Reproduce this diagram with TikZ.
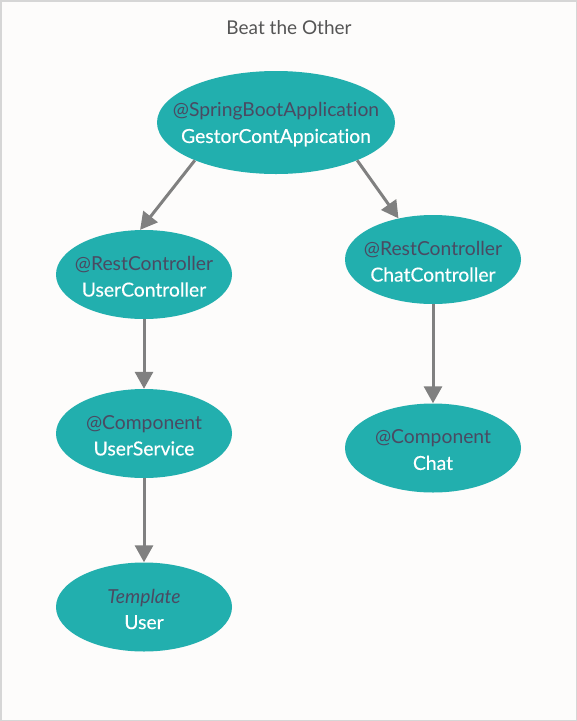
\documentclass[tikz,border=0pt]{standalone}
\usepackage{fontspec}
\setmainfont{Lato}[Ligatures={NoCommon}]
\newfontfamily\namefont{Lato}[FakeBold=0.3, Ligatures={NoCommon}]
\newfontfamily\annofont{Lato}[Ligatures={NoCommon}]
\usetikzlibrary{shapes.geometric,arrows.meta}
\definecolor{bg}{HTML}{FDFCFB}
\definecolor{frame}{HTML}{D6D6D6}
\definecolor{teal}{HTML}{22AFAE}
\definecolor{anno}{HTML}{4A4A62}
\definecolor{arr}{HTML}{808080}
\definecolor{titlec}{HTML}{555555}
\tikzset{
  cls/.style={ellipse, fill=teal, draw=none, inner sep=0pt, minimum width=176pt, minimum height=89pt},
  txt/.style={align=center, inner sep=0pt, font=\namefont\fontsize{19.3}{26}\selectfont, text=white, yshift=-2pt},
  link/.style={draw=arr, line width=3pt, -{Triangle[length=17pt,width=18pt]}},
}
\newcommand{\anno}[1]{{\annofont\color{anno}#1}}
\begin{document}
\begin{tikzpicture}[x=1pt,y=-1pt]
\path[fill=bg, draw=frame, line width=1.5pt] (0.75,0.75) rectangle (576.25,720.25);
\useasboundingbox (0,0) rectangle (577,721);
\node[font=\fontsize{19}{22}\selectfont, text=titlec] (title) at (289,28) {Beat the Other};
\node[cls, minimum width=238pt, minimum height=103pt] (app) at (276,122.5) {};
\node[cls] (uc) at (144,274.5) {};
\node[cls] (cc) at (433,259.5) {};
\node[cls] (us) at (144,433.5) {};
\node[cls] (chat) at (433,448) {};
\node[cls] (user) at (144,607) {};
\node[txt] (appt) at (app) {\anno{@SpringBootApplication}\\GestorContAppication};
\node[txt] (uct) at (uc) {\anno{@RestController}\\UserController};
\node[txt] (cct) at (cc) {\anno{@RestController}\\ChatController};
\node[txt] (ust) at (us) {\anno{@Component}\\UserService};
\node[txt] (chatt) at (chat) {\anno{@Component}\\Chat};
\node[txt] (usert) at (user) {\anno{\itshape Template}\\User};
\draw[link] (app.205) -- (uc.95);
\draw[link] (app.335) -- (cc.130);
\draw[link] (uc.south) -- (us.north);
\draw[link] (cc.south) -- (chat.north);
\draw[link] (us.south) -- (user.north);
\end{tikzpicture}
\end{document}
